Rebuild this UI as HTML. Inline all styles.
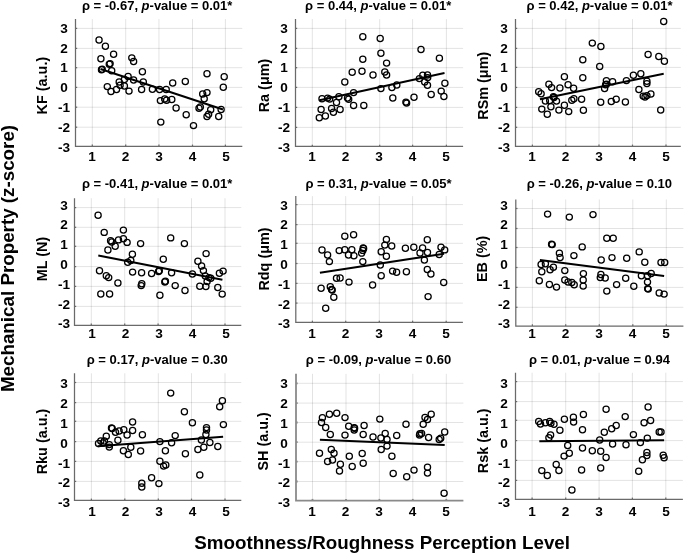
<!DOCTYPE html><html><head><meta charset="utf-8"><style>html,body{margin:0;padding:0;background:#fff}svg{display:block}text{font-family:"Liberation Sans", Arial, sans-serif;font-weight:bold;fill:#000}</style></head><body>
<svg width="685" height="554" viewBox="0 0 685 554">
<rect width="685" height="554" fill="#fff"/>
<g stroke="#000" stroke-opacity="0.11" stroke-width="1"><line x1="92.30" y1="19.10" x2="92.30" y2="146.30"/><line x1="125.70" y1="19.10" x2="125.70" y2="146.30"/><line x1="158.95" y1="19.10" x2="158.95" y2="146.30"/><line x1="192.50" y1="19.10" x2="192.50" y2="146.30"/><line x1="225.40" y1="19.10" x2="225.40" y2="146.30"/><line x1="75.50" y1="28.40" x2="242.30" y2="28.40"/><line x1="75.50" y1="48.40" x2="242.30" y2="48.40"/><line x1="75.50" y1="67.70" x2="242.30" y2="67.70"/><line x1="75.50" y1="87.40" x2="242.30" y2="87.40"/><line x1="75.50" y1="107.20" x2="242.30" y2="107.20"/><line x1="75.50" y1="127.20" x2="242.30" y2="127.20"/></g>
<g stroke="#6a6a6a" stroke-width="1.25"><path d="M75.50 19.10V146.30H242.30" fill="none"/><line x1="92.30" y1="146.30" x2="92.30" y2="144.60"/><line x1="125.70" y1="146.30" x2="125.70" y2="144.60"/><line x1="158.95" y1="146.30" x2="158.95" y2="144.60"/><line x1="192.50" y1="146.30" x2="192.50" y2="144.60"/><line x1="225.40" y1="146.30" x2="225.40" y2="144.60"/><line x1="75.50" y1="28.40" x2="77.20" y2="28.40"/><line x1="75.50" y1="48.40" x2="77.20" y2="48.40"/><line x1="75.50" y1="67.70" x2="77.20" y2="67.70"/><line x1="75.50" y1="87.40" x2="77.20" y2="87.40"/><line x1="75.50" y1="107.20" x2="77.20" y2="107.20"/><line x1="75.50" y1="127.20" x2="77.20" y2="127.20"/></g>
<g style="font-size:13.60px"><text x="92.05" y="160.90" text-anchor="middle">1</text><text x="125.55" y="160.90" text-anchor="middle">2</text><text x="159.05" y="160.90" text-anchor="middle">3</text><text x="192.55" y="160.90" text-anchor="middle">4</text><text x="226.05" y="160.90" text-anchor="middle">5</text><text x="64.05" y="32.68" text-anchor="middle">3</text><text x="64.05" y="52.51" text-anchor="middle">2</text><text x="64.05" y="72.35" text-anchor="middle">1</text><text x="64.05" y="92.18" text-anchor="middle">0</text><text x="64.05" y="112.01" text-anchor="middle">-1</text><text x="64.05" y="131.85" text-anchor="middle">-2</text><text x="64.05" y="151.68" text-anchor="middle">-3</text></g>
<text x="81.90" y="9.70" style="font-size:13.00px">ρ = -0.67, <tspan font-style="italic">p</tspan>-value = 0.01*</text>
<text transform="translate(46.90 85.60) rotate(-90)" text-anchor="middle" style="font-size:14.40px">KF (a.u.)</text>
<g fill="none" stroke="#000" stroke-width="1.25"><circle cx="99.05" cy="40.07" r="3.1"/><circle cx="105.40" cy="46.20" r="3.1"/><circle cx="113.60" cy="54.20" r="3.1"/><circle cx="100.90" cy="58.80" r="3.1"/><circle cx="109.30" cy="64.30" r="3.1"/><circle cx="110.10" cy="63.60" r="3.1"/><circle cx="101.50" cy="69.80" r="3.1"/><circle cx="102.20" cy="69.30" r="3.1"/><circle cx="111.70" cy="70.80" r="3.1"/><circle cx="131.80" cy="57.85" r="3.1"/><circle cx="133.60" cy="61.50" r="3.1"/><circle cx="142.40" cy="71.70" r="3.1"/><circle cx="128.10" cy="76.40" r="3.1"/><circle cx="119.20" cy="81.90" r="3.1"/><circle cx="124.40" cy="79.40" r="3.1"/><circle cx="133.60" cy="80.00" r="3.1"/><circle cx="143.30" cy="82.00" r="3.1"/><circle cx="107.30" cy="86.60" r="3.1"/><circle cx="111.00" cy="91.50" r="3.1"/><circle cx="116.50" cy="89.40" r="3.1"/><circle cx="120.10" cy="85.30" r="3.1"/><circle cx="124.40" cy="86.00" r="3.1"/><circle cx="129.00" cy="91.10" r="3.1"/><circle cx="141.60" cy="89.40" r="3.1"/><circle cx="152.40" cy="89.20" r="3.1"/><circle cx="159.60" cy="89.40" r="3.1"/><circle cx="166.20" cy="89.50" r="3.1"/><circle cx="172.70" cy="83.00" r="3.1"/><circle cx="185.30" cy="81.40" r="3.1"/><circle cx="207.00" cy="73.80" r="3.1"/><circle cx="224.20" cy="76.80" r="3.1"/><circle cx="223.30" cy="87.20" r="3.1"/><circle cx="202.70" cy="94.00" r="3.1"/><circle cx="207.00" cy="92.60" r="3.1"/><circle cx="204.20" cy="98.80" r="3.1"/><circle cx="160.40" cy="100.60" r="3.1"/><circle cx="164.70" cy="99.00" r="3.1"/><circle cx="166.60" cy="100.20" r="3.1"/><circle cx="171.80" cy="99.40" r="3.1"/><circle cx="176.10" cy="108.00" r="3.1"/><circle cx="186.20" cy="114.70" r="3.1"/><circle cx="160.80" cy="122.10" r="3.1"/><circle cx="193.50" cy="125.60" r="3.1"/><circle cx="199.00" cy="108.20" r="3.1"/><circle cx="200.30" cy="107.00" r="3.1"/><circle cx="210.70" cy="109.70" r="3.1"/><circle cx="208.60" cy="114.30" r="3.1"/><circle cx="207.00" cy="116.50" r="3.1"/><circle cx="221.10" cy="109.40" r="3.1"/><circle cx="218.70" cy="116.50" r="3.1"/></g>
<line x1="100.50" y1="69.00" x2="223.00" y2="109.50" stroke="#000" stroke-width="2"/>
<g stroke="#000" stroke-opacity="0.11" stroke-width="1"><line x1="312.30" y1="19.10" x2="312.30" y2="146.40"/><line x1="345.70" y1="19.10" x2="345.70" y2="146.40"/><line x1="379.70" y1="19.10" x2="379.70" y2="146.40"/><line x1="412.60" y1="19.10" x2="412.60" y2="146.40"/><line x1="446.40" y1="19.10" x2="446.40" y2="146.40"/><line x1="295.50" y1="28.40" x2="463.10" y2="28.40"/><line x1="295.50" y1="48.40" x2="463.10" y2="48.40"/><line x1="295.50" y1="67.70" x2="463.10" y2="67.70"/><line x1="295.50" y1="87.40" x2="463.10" y2="87.40"/><line x1="295.50" y1="107.40" x2="463.10" y2="107.40"/><line x1="295.50" y1="127.40" x2="463.10" y2="127.40"/></g>
<g stroke="#6a6a6a" stroke-width="1.25"><path d="M295.50 19.10V146.40H463.10" fill="none"/><line x1="312.30" y1="146.40" x2="312.30" y2="144.70"/><line x1="345.70" y1="146.40" x2="345.70" y2="144.70"/><line x1="379.70" y1="146.40" x2="379.70" y2="144.70"/><line x1="412.60" y1="146.40" x2="412.60" y2="144.70"/><line x1="446.40" y1="146.40" x2="446.40" y2="144.70"/><line x1="295.50" y1="28.40" x2="297.20" y2="28.40"/><line x1="295.50" y1="48.40" x2="297.20" y2="48.40"/><line x1="295.50" y1="67.70" x2="297.20" y2="67.70"/><line x1="295.50" y1="87.40" x2="297.20" y2="87.40"/><line x1="295.50" y1="107.40" x2="297.20" y2="107.40"/><line x1="295.50" y1="127.40" x2="297.20" y2="127.40"/></g>
<g style="font-size:13.60px"><text x="312.10" y="160.90" text-anchor="middle">1</text><text x="345.60" y="160.90" text-anchor="middle">2</text><text x="379.10" y="160.90" text-anchor="middle">3</text><text x="412.60" y="160.90" text-anchor="middle">4</text><text x="446.10" y="160.90" text-anchor="middle">5</text><text x="284.05" y="32.68" text-anchor="middle">3</text><text x="284.05" y="52.51" text-anchor="middle">2</text><text x="284.05" y="72.35" text-anchor="middle">1</text><text x="284.05" y="92.18" text-anchor="middle">0</text><text x="284.05" y="112.01" text-anchor="middle">-1</text><text x="284.05" y="131.85" text-anchor="middle">-2</text><text x="284.05" y="151.68" text-anchor="middle">-3</text></g>
<text x="305.10" y="9.70" style="font-size:13.00px">ρ = 0.44, <tspan font-style="italic">p</tspan>-value = 0.01*</text>
<text transform="translate(268.60 85.50) rotate(-90)" text-anchor="middle" style="font-size:14.40px">Ra (μm)</text>
<g fill="none" stroke="#000" stroke-width="1.25"><circle cx="362.80" cy="36.80" r="3.1"/><circle cx="362.80" cy="59.30" r="3.1"/><circle cx="352.20" cy="72.30" r="3.1"/><circle cx="362.00" cy="71.30" r="3.1"/><circle cx="373.00" cy="74.90" r="3.1"/><circle cx="344.80" cy="82.00" r="3.1"/><circle cx="322.00" cy="98.70" r="3.1"/><circle cx="327.60" cy="98.10" r="3.1"/><circle cx="329.70" cy="99.10" r="3.1"/><circle cx="338.90" cy="96.80" r="3.1"/><circle cx="336.50" cy="102.40" r="3.1"/><circle cx="347.50" cy="98.10" r="3.1"/><circle cx="348.70" cy="99.30" r="3.1"/><circle cx="353.60" cy="92.60" r="3.1"/><circle cx="353.60" cy="105.40" r="3.1"/><circle cx="363.80" cy="105.40" r="3.1"/><circle cx="321.10" cy="109.40" r="3.1"/><circle cx="331.60" cy="108.50" r="3.1"/><circle cx="333.40" cy="112.20" r="3.1"/><circle cx="340.10" cy="109.40" r="3.1"/><circle cx="325.40" cy="115.90" r="3.1"/><circle cx="319.30" cy="117.70" r="3.1"/><circle cx="380.20" cy="38.50" r="3.1"/><circle cx="380.90" cy="53.20" r="3.1"/><circle cx="386.60" cy="63.10" r="3.1"/><circle cx="384.80" cy="72.00" r="3.1"/><circle cx="386.60" cy="75.00" r="3.1"/><circle cx="421.00" cy="49.50" r="3.1"/><circle cx="439.40" cy="58.20" r="3.1"/><circle cx="380.90" cy="88.60" r="3.1"/><circle cx="391.90" cy="87.40" r="3.1"/><circle cx="396.80" cy="85.00" r="3.1"/><circle cx="392.80" cy="98.00" r="3.1"/><circle cx="405.90" cy="102.10" r="3.1"/><circle cx="406.60" cy="103.10" r="3.1"/><circle cx="414.00" cy="97.20" r="3.1"/><circle cx="419.40" cy="78.60" r="3.1"/><circle cx="422.80" cy="75.20" r="3.1"/><circle cx="427.50" cy="74.90" r="3.1"/><circle cx="427.70" cy="77.60" r="3.1"/><circle cx="424.70" cy="82.00" r="3.1"/><circle cx="427.50" cy="85.30" r="3.1"/><circle cx="431.20" cy="94.50" r="3.1"/><circle cx="444.90" cy="83.20" r="3.1"/><circle cx="441.20" cy="91.10" r="3.1"/><circle cx="443.90" cy="96.40" r="3.1"/></g>
<line x1="319.50" y1="100.20" x2="444.50" y2="73.10" stroke="#000" stroke-width="2"/>
<g stroke="#000" stroke-opacity="0.11" stroke-width="1"><line x1="532.40" y1="19.10" x2="532.40" y2="146.30"/><line x1="565.80" y1="19.10" x2="565.80" y2="146.30"/><line x1="599.00" y1="19.10" x2="599.00" y2="146.30"/><line x1="632.50" y1="19.10" x2="632.50" y2="146.30"/><line x1="666.00" y1="19.10" x2="666.00" y2="146.30"/><line x1="515.50" y1="28.40" x2="680.80" y2="28.40"/><line x1="515.50" y1="48.40" x2="680.80" y2="48.40"/><line x1="515.50" y1="67.40" x2="680.80" y2="67.40"/><line x1="515.50" y1="87.45" x2="680.80" y2="87.45"/><line x1="515.50" y1="107.40" x2="680.80" y2="107.40"/><line x1="515.50" y1="127.30" x2="680.80" y2="127.30"/></g>
<g stroke="#6a6a6a" stroke-width="1.25"><path d="M515.50 19.10V146.30H680.80" fill="none"/><line x1="532.40" y1="146.30" x2="532.40" y2="144.60"/><line x1="565.80" y1="146.30" x2="565.80" y2="144.60"/><line x1="599.00" y1="146.30" x2="599.00" y2="144.60"/><line x1="632.50" y1="146.30" x2="632.50" y2="144.60"/><line x1="666.00" y1="146.30" x2="666.00" y2="144.60"/><line x1="515.50" y1="28.40" x2="517.20" y2="28.40"/><line x1="515.50" y1="48.40" x2="517.20" y2="48.40"/><line x1="515.50" y1="67.40" x2="517.20" y2="67.40"/><line x1="515.50" y1="87.45" x2="517.20" y2="87.45"/><line x1="515.50" y1="107.40" x2="517.20" y2="107.40"/><line x1="515.50" y1="127.30" x2="517.20" y2="127.30"/></g>
<g style="font-size:13.60px"><text x="532.05" y="160.90" text-anchor="middle">1</text><text x="565.55" y="160.90" text-anchor="middle">2</text><text x="599.05" y="160.90" text-anchor="middle">3</text><text x="632.55" y="160.90" text-anchor="middle">4</text><text x="666.05" y="160.90" text-anchor="middle">5</text><text x="504.05" y="32.68" text-anchor="middle">3</text><text x="504.05" y="52.51" text-anchor="middle">2</text><text x="504.05" y="72.35" text-anchor="middle">1</text><text x="504.05" y="92.18" text-anchor="middle">0</text><text x="504.05" y="112.01" text-anchor="middle">-1</text><text x="504.05" y="131.85" text-anchor="middle">-2</text><text x="504.05" y="151.68" text-anchor="middle">-3</text></g>
<text x="526.50" y="9.70" style="font-size:13.00px">ρ = 0.42, <tspan font-style="italic">p</tspan>-value = 0.01*</text>
<text transform="translate(487.80 85.75) rotate(-90)" text-anchor="middle" style="font-size:14.40px">RSm (μm)</text>
<g fill="none" stroke="#000" stroke-width="1.25"><circle cx="592.30" cy="43.10" r="3.1"/><circle cx="600.90" cy="46.50" r="3.1"/><circle cx="582.80" cy="59.70" r="3.1"/><circle cx="599.70" cy="66.40" r="3.1"/><circle cx="564.40" cy="76.80" r="3.1"/><circle cx="582.80" cy="77.70" r="3.1"/><circle cx="548.90" cy="84.30" r="3.1"/><circle cx="551.60" cy="87.60" r="3.1"/><circle cx="559.90" cy="88.00" r="3.1"/><circle cx="568.10" cy="84.80" r="3.1"/><circle cx="573.60" cy="88.30" r="3.1"/><circle cx="538.70" cy="91.70" r="3.1"/><circle cx="541.10" cy="93.80" r="3.1"/><circle cx="545.40" cy="101.10" r="3.1"/><circle cx="549.70" cy="100.50" r="3.1"/><circle cx="553.40" cy="96.80" r="3.1"/><circle cx="554.00" cy="97.50" r="3.1"/><circle cx="556.50" cy="101.10" r="3.1"/><circle cx="550.90" cy="106.70" r="3.1"/><circle cx="541.80" cy="109.10" r="3.1"/><circle cx="547.30" cy="114.30" r="3.1"/><circle cx="558.90" cy="110.10" r="3.1"/><circle cx="564.40" cy="105.20" r="3.1"/><circle cx="568.70" cy="111.60" r="3.1"/><circle cx="571.80" cy="100.30" r="3.1"/><circle cx="573.90" cy="98.70" r="3.1"/><circle cx="581.60" cy="99.30" r="3.1"/><circle cx="583.40" cy="110.30" r="3.1"/><circle cx="663.70" cy="21.40" r="3.1"/><circle cx="648.10" cy="54.40" r="3.1"/><circle cx="658.80" cy="56.40" r="3.1"/><circle cx="664.40" cy="61.30" r="3.1"/><circle cx="606.40" cy="80.60" r="3.1"/><circle cx="606.40" cy="84.20" r="3.1"/><circle cx="605.60" cy="84.80" r="3.1"/><circle cx="604.60" cy="88.50" r="3.1"/><circle cx="612.60" cy="81.80" r="3.1"/><circle cx="626.40" cy="80.60" r="3.1"/><circle cx="633.40" cy="75.30" r="3.1"/><circle cx="640.80" cy="73.80" r="3.1"/><circle cx="646.90" cy="81.20" r="3.1"/><circle cx="646.90" cy="83.60" r="3.1"/><circle cx="638.90" cy="89.50" r="3.1"/><circle cx="643.20" cy="96.10" r="3.1"/><circle cx="645.00" cy="96.90" r="3.1"/><circle cx="646.90" cy="95.60" r="3.1"/><circle cx="650.90" cy="94.00" r="3.1"/><circle cx="600.70" cy="102.30" r="3.1"/><circle cx="611.30" cy="101.40" r="3.1"/><circle cx="616.20" cy="99.30" r="3.1"/><circle cx="625.40" cy="102.00" r="3.1"/><circle cx="660.70" cy="110.00" r="3.1"/></g>
<line x1="539.90" y1="99.20" x2="663.70" y2="73.70" stroke="#000" stroke-width="2"/>
<g stroke="#000" stroke-opacity="0.11" stroke-width="1"><line x1="91.30" y1="198.25" x2="91.30" y2="325.30"/><line x1="124.70" y1="198.25" x2="124.70" y2="325.30"/><line x1="158.10" y1="198.25" x2="158.10" y2="325.30"/><line x1="191.50" y1="198.25" x2="191.50" y2="325.30"/><line x1="225.00" y1="198.25" x2="225.00" y2="325.30"/><line x1="74.50" y1="207.60" x2="241.30" y2="207.60"/><line x1="74.50" y1="227.30" x2="241.30" y2="227.30"/><line x1="74.50" y1="246.30" x2="241.30" y2="246.30"/><line x1="74.50" y1="266.60" x2="241.30" y2="266.60"/><line x1="74.50" y1="286.40" x2="241.30" y2="286.40"/><line x1="74.50" y1="306.40" x2="241.30" y2="306.40"/></g>
<g stroke="#6a6a6a" stroke-width="1.25"><path d="M74.50 198.25V325.30H241.30" fill="none"/><line x1="91.30" y1="325.30" x2="91.30" y2="323.60"/><line x1="124.70" y1="325.30" x2="124.70" y2="323.60"/><line x1="158.10" y1="325.30" x2="158.10" y2="323.60"/><line x1="191.50" y1="325.30" x2="191.50" y2="323.60"/><line x1="225.00" y1="325.30" x2="225.00" y2="323.60"/><line x1="74.50" y1="207.60" x2="76.20" y2="207.60"/><line x1="74.50" y1="227.30" x2="76.20" y2="227.30"/><line x1="74.50" y1="246.30" x2="76.20" y2="246.30"/><line x1="74.50" y1="266.60" x2="76.20" y2="266.60"/><line x1="74.50" y1="286.40" x2="76.20" y2="286.40"/><line x1="74.50" y1="306.40" x2="76.20" y2="306.40"/></g>
<g style="font-size:13.60px"><text x="92.05" y="337.90" text-anchor="middle">1</text><text x="125.55" y="337.90" text-anchor="middle">2</text><text x="159.05" y="337.90" text-anchor="middle">3</text><text x="192.55" y="337.90" text-anchor="middle">4</text><text x="226.05" y="337.90" text-anchor="middle">5</text><text x="64.05" y="209.63" text-anchor="middle">3</text><text x="64.05" y="229.44" text-anchor="middle">2</text><text x="64.05" y="249.25" text-anchor="middle">1</text><text x="64.05" y="269.06" text-anchor="middle">0</text><text x="64.05" y="288.86" text-anchor="middle">-1</text><text x="64.05" y="308.67" text-anchor="middle">-2</text><text x="64.05" y="328.48" text-anchor="middle">-3</text></g>
<text x="81.90" y="187.70" style="font-size:13.00px">ρ = -0.41, <tspan font-style="italic">p</tspan>-value = 0.01*</text>
<text transform="translate(46.90 259.00) rotate(-90)" text-anchor="middle" style="font-size:14.40px">ML (N)</text>
<g fill="none" stroke="#000" stroke-width="1.25"><circle cx="98.10" cy="215.30" r="3.1"/><circle cx="104.20" cy="232.40" r="3.1"/><circle cx="123.40" cy="230.10" r="3.1"/><circle cx="110.60" cy="240.80" r="3.1"/><circle cx="111.80" cy="242.00" r="3.1"/><circle cx="118.50" cy="239.90" r="3.1"/><circle cx="123.40" cy="238.70" r="3.1"/><circle cx="127.10" cy="242.40" r="3.1"/><circle cx="115.20" cy="246.30" r="3.1"/><circle cx="107.90" cy="250.00" r="3.1"/><circle cx="140.60" cy="243.60" r="3.1"/><circle cx="132.40" cy="254.20" r="3.1"/><circle cx="127.70" cy="262.30" r="3.1"/><circle cx="130.80" cy="260.40" r="3.1"/><circle cx="99.50" cy="270.80" r="3.1"/><circle cx="106.30" cy="275.80" r="3.1"/><circle cx="108.70" cy="277.60" r="3.1"/><circle cx="117.90" cy="282.90" r="3.1"/><circle cx="132.60" cy="272.10" r="3.1"/><circle cx="141.60" cy="272.70" r="3.1"/><circle cx="151.60" cy="273.50" r="3.1"/><circle cx="141.80" cy="283.70" r="3.1"/><circle cx="141.20" cy="285.60" r="3.1"/><circle cx="100.80" cy="293.90" r="3.1"/><circle cx="109.60" cy="293.90" r="3.1"/><circle cx="170.70" cy="237.90" r="3.1"/><circle cx="184.40" cy="243.60" r="3.1"/><circle cx="206.10" cy="253.60" r="3.1"/><circle cx="163.30" cy="259.20" r="3.1"/><circle cx="197.90" cy="261.30" r="3.1"/><circle cx="201.60" cy="265.90" r="3.1"/><circle cx="203.40" cy="270.60" r="3.1"/><circle cx="159.30" cy="270.80" r="3.1"/><circle cx="158.60" cy="271.40" r="3.1"/><circle cx="171.60" cy="272.70" r="3.1"/><circle cx="192.40" cy="273.90" r="3.1"/><circle cx="205.30" cy="276.00" r="3.1"/><circle cx="209.00" cy="277.60" r="3.1"/><circle cx="210.80" cy="278.20" r="3.1"/><circle cx="207.10" cy="281.60" r="3.1"/><circle cx="219.40" cy="273.30" r="3.1"/><circle cx="223.10" cy="271.10" r="3.1"/><circle cx="165.40" cy="281.30" r="3.1"/><circle cx="164.80" cy="281.90" r="3.1"/><circle cx="175.20" cy="285.60" r="3.1"/><circle cx="185.00" cy="290.50" r="3.1"/><circle cx="199.80" cy="286.20" r="3.1"/><circle cx="205.90" cy="286.50" r="3.1"/><circle cx="217.80" cy="287.40" r="3.1"/><circle cx="222.20" cy="294.10" r="3.1"/><circle cx="159.90" cy="295.20" r="3.1"/></g>
<line x1="98.30" y1="255.60" x2="222.40" y2="279.80" stroke="#000" stroke-width="2"/>
<g stroke="#000" stroke-opacity="0.11" stroke-width="1"><line x1="312.40" y1="196.10" x2="312.40" y2="322.40"/><line x1="345.70" y1="196.10" x2="345.70" y2="322.40"/><line x1="379.30" y1="196.10" x2="379.30" y2="322.40"/><line x1="412.60" y1="196.10" x2="412.60" y2="322.40"/><line x1="446.20" y1="196.10" x2="446.20" y2="322.40"/><line x1="295.80" y1="204.60" x2="462.90" y2="204.60"/><line x1="295.80" y1="224.60" x2="462.90" y2="224.60"/><line x1="295.80" y1="243.30" x2="462.90" y2="243.30"/><line x1="295.80" y1="263.50" x2="462.90" y2="263.50"/><line x1="295.80" y1="283.40" x2="462.90" y2="283.40"/><line x1="295.80" y1="303.10" x2="462.90" y2="303.10"/></g>
<g stroke="#6a6a6a" stroke-width="1.25"><path d="M295.80 196.10V322.40H462.90" fill="none"/><line x1="312.40" y1="322.40" x2="312.40" y2="320.70"/><line x1="345.70" y1="322.40" x2="345.70" y2="320.70"/><line x1="379.30" y1="322.40" x2="379.30" y2="320.70"/><line x1="412.60" y1="322.40" x2="412.60" y2="320.70"/><line x1="446.20" y1="322.40" x2="446.20" y2="320.70"/><line x1="295.80" y1="204.60" x2="297.50" y2="204.60"/><line x1="295.80" y1="224.60" x2="297.50" y2="224.60"/><line x1="295.80" y1="243.30" x2="297.50" y2="243.30"/><line x1="295.80" y1="263.50" x2="297.50" y2="263.50"/><line x1="295.80" y1="283.40" x2="297.50" y2="283.40"/><line x1="295.80" y1="303.10" x2="297.50" y2="303.10"/></g>
<g style="font-size:13.60px"><text x="312.10" y="337.90" text-anchor="middle">1</text><text x="345.60" y="337.90" text-anchor="middle">2</text><text x="379.10" y="337.90" text-anchor="middle">3</text><text x="412.60" y="337.90" text-anchor="middle">4</text><text x="446.10" y="337.90" text-anchor="middle">5</text><text x="284.05" y="209.63" text-anchor="middle">3</text><text x="284.05" y="229.44" text-anchor="middle">2</text><text x="284.05" y="249.25" text-anchor="middle">1</text><text x="284.05" y="269.06" text-anchor="middle">0</text><text x="284.05" y="288.86" text-anchor="middle">-1</text><text x="284.05" y="308.67" text-anchor="middle">-2</text><text x="284.05" y="328.48" text-anchor="middle">-3</text></g>
<text x="305.40" y="187.70" style="font-size:13.00px">ρ = 0.31, <tspan font-style="italic">p</tspan>-value = 0.05*</text>
<text transform="translate(268.50 259.00) rotate(-90)" text-anchor="middle" style="font-size:14.40px">Rdq (μm)</text>
<g fill="none" stroke="#000" stroke-width="1.25"><circle cx="344.80" cy="236.20" r="3.1"/><circle cx="353.60" cy="234.70" r="3.1"/><circle cx="322.00" cy="250.00" r="3.1"/><circle cx="327.60" cy="255.00" r="3.1"/><circle cx="339.20" cy="250.60" r="3.1"/><circle cx="344.80" cy="249.70" r="3.1"/><circle cx="351.80" cy="249.70" r="3.1"/><circle cx="348.50" cy="254.90" r="3.1"/><circle cx="353.90" cy="255.80" r="3.1"/><circle cx="363.20" cy="247.90" r="3.1"/><circle cx="363.60" cy="248.40" r="3.1"/><circle cx="362.80" cy="250.40" r="3.1"/><circle cx="361.60" cy="253.10" r="3.1"/><circle cx="329.40" cy="261.60" r="3.1"/><circle cx="362.80" cy="261.60" r="3.1"/><circle cx="336.50" cy="278.20" r="3.1"/><circle cx="340.10" cy="278.00" r="3.1"/><circle cx="349.00" cy="282.10" r="3.1"/><circle cx="321.10" cy="288.30" r="3.1"/><circle cx="330.30" cy="286.80" r="3.1"/><circle cx="331.60" cy="289.50" r="3.1"/><circle cx="332.20" cy="289.90" r="3.1"/><circle cx="333.80" cy="297.20" r="3.1"/><circle cx="325.70" cy="308.20" r="3.1"/><circle cx="372.60" cy="284.90" r="3.1"/><circle cx="386.40" cy="239.40" r="3.1"/><circle cx="384.80" cy="245.10" r="3.1"/><circle cx="391.70" cy="246.00" r="3.1"/><circle cx="381.20" cy="251.80" r="3.1"/><circle cx="386.40" cy="256.30" r="3.1"/><circle cx="405.40" cy="248.20" r="3.1"/><circle cx="413.80" cy="247.20" r="3.1"/><circle cx="422.60" cy="247.90" r="3.1"/><circle cx="427.30" cy="239.80" r="3.1"/><circle cx="427.50" cy="252.50" r="3.1"/><circle cx="420.00" cy="253.00" r="3.1"/><circle cx="441.00" cy="247.20" r="3.1"/><circle cx="444.70" cy="249.90" r="3.1"/><circle cx="439.20" cy="254.50" r="3.1"/><circle cx="380.30" cy="265.00" r="3.1"/><circle cx="381.20" cy="275.80" r="3.1"/><circle cx="392.60" cy="271.10" r="3.1"/><circle cx="396.60" cy="272.30" r="3.1"/><circle cx="406.40" cy="271.80" r="3.1"/><circle cx="424.40" cy="260.10" r="3.1"/><circle cx="427.30" cy="269.40" r="3.1"/><circle cx="430.90" cy="273.90" r="3.1"/><circle cx="443.70" cy="282.50" r="3.1"/><circle cx="428.10" cy="296.60" r="3.1"/></g>
<line x1="319.90" y1="272.70" x2="444.10" y2="253.70" stroke="#000" stroke-width="2"/>
<g stroke="#000" stroke-opacity="0.11" stroke-width="1"><line x1="532.40" y1="199.50" x2="532.40" y2="326.00"/><line x1="565.70" y1="199.50" x2="565.70" y2="326.00"/><line x1="599.30" y1="199.50" x2="599.30" y2="326.00"/><line x1="632.80" y1="199.50" x2="632.80" y2="326.00"/><line x1="666.30" y1="199.50" x2="666.30" y2="326.00"/><line x1="515.80" y1="208.50" x2="683.40" y2="208.50"/><line x1="515.80" y1="228.50" x2="683.40" y2="228.50"/><line x1="515.80" y1="247.50" x2="683.40" y2="247.50"/><line x1="515.80" y1="267.50" x2="683.40" y2="267.50"/><line x1="515.80" y1="287.40" x2="683.40" y2="287.40"/><line x1="515.80" y1="307.30" x2="683.40" y2="307.30"/></g>
<g stroke="#6a6a6a" stroke-width="1.25"><path d="M515.80 199.50V326.00H683.40" fill="none"/><line x1="532.40" y1="326.00" x2="532.40" y2="324.30"/><line x1="565.70" y1="326.00" x2="565.70" y2="324.30"/><line x1="599.30" y1="326.00" x2="599.30" y2="324.30"/><line x1="632.80" y1="326.00" x2="632.80" y2="324.30"/><line x1="666.30" y1="326.00" x2="666.30" y2="324.30"/><line x1="515.80" y1="208.50" x2="517.50" y2="208.50"/><line x1="515.80" y1="228.50" x2="517.50" y2="228.50"/><line x1="515.80" y1="247.50" x2="517.50" y2="247.50"/><line x1="515.80" y1="267.50" x2="517.50" y2="267.50"/><line x1="515.80" y1="287.40" x2="517.50" y2="287.40"/><line x1="515.80" y1="307.30" x2="517.50" y2="307.30"/></g>
<g style="font-size:13.60px"><text x="532.05" y="337.90" text-anchor="middle">1</text><text x="565.55" y="337.90" text-anchor="middle">2</text><text x="599.05" y="337.90" text-anchor="middle">3</text><text x="632.55" y="337.90" text-anchor="middle">4</text><text x="666.05" y="337.90" text-anchor="middle">5</text><text x="504.05" y="209.63" text-anchor="middle">3</text><text x="504.05" y="229.44" text-anchor="middle">2</text><text x="504.05" y="249.25" text-anchor="middle">1</text><text x="504.05" y="269.06" text-anchor="middle">0</text><text x="504.05" y="288.86" text-anchor="middle">-1</text><text x="504.05" y="308.67" text-anchor="middle">-2</text><text x="504.05" y="328.48" text-anchor="middle">-3</text></g>
<text x="526.70" y="188.00" style="font-size:13.00px">ρ = -0.26, <tspan font-style="italic">p</tspan>-value = 0.10</text>
<text transform="translate(487.30 258.90) rotate(-90)" text-anchor="middle" style="font-size:14.40px">EB (%)</text>
<g fill="none" stroke="#000" stroke-width="1.25"><circle cx="547.60" cy="214.10" r="3.1"/><circle cx="569.30" cy="217.10" r="3.1"/><circle cx="593.00" cy="214.60" r="3.1"/><circle cx="551.60" cy="244.20" r="3.1"/><circle cx="552.20" cy="244.60" r="3.1"/><circle cx="559.40" cy="253.20" r="3.1"/><circle cx="560.10" cy="257.50" r="3.1"/><circle cx="582.20" cy="246.90" r="3.1"/><circle cx="573.90" cy="255.60" r="3.1"/><circle cx="541.10" cy="264.40" r="3.1"/><circle cx="545.40" cy="263.80" r="3.1"/><circle cx="541.80" cy="271.80" r="3.1"/><circle cx="550.10" cy="269.70" r="3.1"/><circle cx="553.40" cy="267.20" r="3.1"/><circle cx="564.80" cy="270.60" r="3.1"/><circle cx="539.30" cy="280.70" r="3.1"/><circle cx="549.40" cy="284.40" r="3.1"/><circle cx="556.50" cy="287.10" r="3.1"/><circle cx="564.80" cy="280.00" r="3.1"/><circle cx="568.10" cy="282.00" r="3.1"/><circle cx="571.80" cy="282.40" r="3.1"/><circle cx="574.20" cy="284.70" r="3.1"/><circle cx="583.40" cy="273.60" r="3.1"/><circle cx="583.20" cy="280.00" r="3.1"/><circle cx="583.20" cy="286.10" r="3.1"/><circle cx="606.80" cy="238.30" r="3.1"/><circle cx="613.20" cy="238.30" r="3.1"/><circle cx="639.20" cy="251.90" r="3.1"/><circle cx="612.00" cy="257.60" r="3.1"/><circle cx="626.70" cy="258.30" r="3.1"/><circle cx="601.20" cy="260.00" r="3.1"/><circle cx="644.80" cy="262.30" r="3.1"/><circle cx="661.00" cy="262.50" r="3.1"/><circle cx="664.70" cy="262.50" r="3.1"/><circle cx="600.90" cy="274.50" r="3.1"/><circle cx="600.30" cy="277.60" r="3.1"/><circle cx="605.20" cy="278.00" r="3.1"/><circle cx="625.70" cy="278.20" r="3.1"/><circle cx="616.60" cy="284.60" r="3.1"/><circle cx="606.80" cy="291.10" r="3.1"/><circle cx="633.80" cy="286.20" r="3.1"/><circle cx="641.40" cy="275.80" r="3.1"/><circle cx="647.50" cy="275.80" r="3.1"/><circle cx="651.20" cy="273.50" r="3.1"/><circle cx="647.50" cy="282.10" r="3.1"/><circle cx="647.70" cy="288.60" r="3.1"/><circle cx="648.20" cy="289.10" r="3.1"/><circle cx="659.20" cy="292.90" r="3.1"/><circle cx="664.10" cy="294.10" r="3.1"/></g>
<line x1="539.90" y1="260.10" x2="664.10" y2="276.00" stroke="#000" stroke-width="2"/>
<g stroke="#000" stroke-opacity="0.11" stroke-width="1"><line x1="91.40" y1="373.25" x2="91.40" y2="500.30"/><line x1="124.80" y1="373.25" x2="124.80" y2="500.30"/><line x1="158.30" y1="373.25" x2="158.30" y2="500.30"/><line x1="191.50" y1="373.25" x2="191.50" y2="500.30"/><line x1="225.00" y1="373.25" x2="225.00" y2="500.30"/><line x1="74.50" y1="382.50" x2="241.30" y2="382.50"/><line x1="74.50" y1="402.60" x2="241.30" y2="402.60"/><line x1="74.50" y1="421.30" x2="241.30" y2="421.30"/><line x1="74.50" y1="441.60" x2="241.30" y2="441.60"/><line x1="74.50" y1="461.40" x2="241.30" y2="461.40"/><line x1="74.50" y1="481.40" x2="241.30" y2="481.40"/></g>
<g stroke="#6a6a6a" stroke-width="1.25"><path d="M74.50 373.25V500.30H241.30" fill="none"/><line x1="91.40" y1="500.30" x2="91.40" y2="498.60"/><line x1="124.80" y1="500.30" x2="124.80" y2="498.60"/><line x1="158.30" y1="500.30" x2="158.30" y2="498.60"/><line x1="191.50" y1="500.30" x2="191.50" y2="498.60"/><line x1="225.00" y1="500.30" x2="225.00" y2="498.60"/><line x1="74.50" y1="382.50" x2="76.20" y2="382.50"/><line x1="74.50" y1="402.60" x2="76.20" y2="402.60"/><line x1="74.50" y1="421.30" x2="76.20" y2="421.30"/><line x1="74.50" y1="441.60" x2="76.20" y2="441.60"/><line x1="74.50" y1="461.40" x2="76.20" y2="461.40"/><line x1="74.50" y1="481.40" x2="76.20" y2="481.40"/></g>
<g style="font-size:13.60px"><text x="92.05" y="516.30" text-anchor="middle">1</text><text x="125.55" y="516.30" text-anchor="middle">2</text><text x="159.05" y="516.30" text-anchor="middle">3</text><text x="192.55" y="516.30" text-anchor="middle">4</text><text x="226.05" y="516.30" text-anchor="middle">5</text><text x="64.05" y="388.28" text-anchor="middle">3</text><text x="64.05" y="408.09" text-anchor="middle">2</text><text x="64.05" y="427.90" text-anchor="middle">1</text><text x="64.05" y="447.70" text-anchor="middle">0</text><text x="64.05" y="467.51" text-anchor="middle">-1</text><text x="64.05" y="487.32" text-anchor="middle">-2</text><text x="64.05" y="507.13" text-anchor="middle">-3</text></g>
<text x="86.70" y="364.30" style="font-size:13.00px">ρ = 0.17, <tspan font-style="italic">p</tspan>-value = 0.30</text>
<text transform="translate(46.80 441.50) rotate(-90)" text-anchor="middle" style="font-size:14.40px">Rku (a.u.)</text>
<g fill="none" stroke="#000" stroke-width="1.25"><circle cx="132.60" cy="421.90" r="3.1"/><circle cx="111.50" cy="427.90" r="3.1"/><circle cx="112.20" cy="428.40" r="3.1"/><circle cx="115.50" cy="432.20" r="3.1"/><circle cx="119.10" cy="431.00" r="3.1"/><circle cx="123.80" cy="429.70" r="3.1"/><circle cx="132.60" cy="430.50" r="3.1"/><circle cx="127.10" cy="435.00" r="3.1"/><circle cx="142.40" cy="434.80" r="3.1"/><circle cx="106.30" cy="436.30" r="3.1"/><circle cx="117.90" cy="440.30" r="3.1"/><circle cx="98.50" cy="443.40" r="3.1"/><circle cx="103.10" cy="443.00" r="3.1"/><circle cx="100.80" cy="441.00" r="3.1"/><circle cx="104.40" cy="441.00" r="3.1"/><circle cx="109.30" cy="444.60" r="3.1"/><circle cx="109.30" cy="447.10" r="3.1"/><circle cx="130.80" cy="447.30" r="3.1"/><circle cx="123.40" cy="450.80" r="3.1"/><circle cx="128.30" cy="454.40" r="3.1"/><circle cx="140.60" cy="451.00" r="3.1"/><circle cx="170.70" cy="393.10" r="3.1"/><circle cx="184.40" cy="411.70" r="3.1"/><circle cx="192.40" cy="422.70" r="3.1"/><circle cx="222.40" cy="400.70" r="3.1"/><circle cx="219.70" cy="406.80" r="3.1"/><circle cx="223.40" cy="424.60" r="3.1"/><circle cx="206.50" cy="427.60" r="3.1"/><circle cx="206.50" cy="430.00" r="3.1"/><circle cx="205.90" cy="434.50" r="3.1"/><circle cx="175.20" cy="435.60" r="3.1"/><circle cx="159.90" cy="441.60" r="3.1"/><circle cx="171.60" cy="442.80" r="3.1"/><circle cx="201.40" cy="440.00" r="3.1"/><circle cx="209.90" cy="442.40" r="3.1"/><circle cx="203.80" cy="447.30" r="3.1"/><circle cx="197.90" cy="449.50" r="3.1"/><circle cx="217.80" cy="446.50" r="3.1"/><circle cx="165.40" cy="450.80" r="3.1"/><circle cx="185.40" cy="453.80" r="3.1"/><circle cx="159.90" cy="461.20" r="3.1"/><circle cx="163.60" cy="466.10" r="3.1"/><circle cx="165.80" cy="464.90" r="3.1"/><circle cx="199.80" cy="475.00" r="3.1"/><circle cx="158.90" cy="483.60" r="3.1"/><circle cx="151.60" cy="477.70" r="3.1"/><circle cx="141.80" cy="483.20" r="3.1"/><circle cx="141.80" cy="486.90" r="3.1"/></g>
<line x1="97.70" y1="446.20" x2="223.10" y2="436.80" stroke="#000" stroke-width="2"/>
<g stroke="#000" stroke-opacity="0.11" stroke-width="1"><line x1="312.50" y1="373.80" x2="312.50" y2="500.60"/><line x1="346.00" y1="373.80" x2="346.00" y2="500.60"/><line x1="379.40" y1="373.80" x2="379.40" y2="500.60"/><line x1="412.80" y1="373.80" x2="412.80" y2="500.60"/><line x1="446.30" y1="373.80" x2="446.30" y2="500.60"/><line x1="296.00" y1="383.30" x2="463.40" y2="383.30"/><line x1="296.00" y1="403.10" x2="463.40" y2="403.10"/><line x1="296.00" y1="422.50" x2="463.40" y2="422.50"/><line x1="296.00" y1="442.20" x2="463.40" y2="442.20"/><line x1="296.00" y1="461.60" x2="463.40" y2="461.60"/><line x1="296.00" y1="481.50" x2="463.40" y2="481.50"/></g>
<g stroke="#8a8a8a" stroke-width="1.80"><path d="M296.00 373.80V500.60H463.40" fill="none"/><line x1="312.50" y1="500.60" x2="312.50" y2="498.90"/><line x1="346.00" y1="500.60" x2="346.00" y2="498.90"/><line x1="379.40" y1="500.60" x2="379.40" y2="498.90"/><line x1="412.80" y1="500.60" x2="412.80" y2="498.90"/><line x1="446.30" y1="500.60" x2="446.30" y2="498.90"/><line x1="296.00" y1="383.30" x2="297.70" y2="383.30"/><line x1="296.00" y1="403.10" x2="297.70" y2="403.10"/><line x1="296.00" y1="422.50" x2="297.70" y2="422.50"/><line x1="296.00" y1="442.20" x2="297.70" y2="442.20"/><line x1="296.00" y1="461.60" x2="297.70" y2="461.60"/><line x1="296.00" y1="481.50" x2="297.70" y2="481.50"/></g>
<g style="font-size:13.60px"><text x="312.10" y="516.30" text-anchor="middle">1</text><text x="345.60" y="516.30" text-anchor="middle">2</text><text x="379.10" y="516.30" text-anchor="middle">3</text><text x="412.60" y="516.30" text-anchor="middle">4</text><text x="446.10" y="516.30" text-anchor="middle">5</text><text x="284.05" y="388.28" text-anchor="middle">3</text><text x="284.05" y="408.09" text-anchor="middle">2</text><text x="284.05" y="427.90" text-anchor="middle">1</text><text x="284.05" y="447.70" text-anchor="middle">0</text><text x="284.05" y="467.51" text-anchor="middle">-1</text><text x="284.05" y="487.32" text-anchor="middle">-2</text><text x="284.05" y="507.13" text-anchor="middle">-3</text></g>
<text x="305.80" y="364.30" style="font-size:13.00px">ρ = -0.09, <tspan font-style="italic">p</tspan>-value = 0.60</text>
<text transform="translate(267.90 441.30) rotate(-90)" text-anchor="middle" style="font-size:14.40px">SH (a.u.)</text>
<g fill="none" stroke="#000" stroke-width="1.25"><circle cx="322.40" cy="417.80" r="3.1"/><circle cx="321.50" cy="422.50" r="3.1"/><circle cx="329.40" cy="414.20" r="3.1"/><circle cx="336.70" cy="413.30" r="3.1"/><circle cx="345.00" cy="417.60" r="3.1"/><circle cx="325.70" cy="427.40" r="3.1"/><circle cx="348.70" cy="426.20" r="3.1"/><circle cx="354.20" cy="427.70" r="3.1"/><circle cx="354.60" cy="428.30" r="3.1"/><circle cx="354.20" cy="429.90" r="3.1"/><circle cx="364.10" cy="425.50" r="3.1"/><circle cx="330.30" cy="434.40" r="3.1"/><circle cx="345.00" cy="435.10" r="3.1"/><circle cx="363.20" cy="434.40" r="3.1"/><circle cx="373.00" cy="437.00" r="3.1"/><circle cx="379.80" cy="419.10" r="3.1"/><circle cx="319.50" cy="453.20" r="3.1"/><circle cx="331.30" cy="449.50" r="3.1"/><circle cx="334.00" cy="453.20" r="3.1"/><circle cx="332.50" cy="460.00" r="3.1"/><circle cx="327.60" cy="461.50" r="3.1"/><circle cx="340.40" cy="464.20" r="3.1"/><circle cx="339.50" cy="471.00" r="3.1"/><circle cx="349.30" cy="456.30" r="3.1"/><circle cx="352.20" cy="466.40" r="3.1"/><circle cx="362.20" cy="453.40" r="3.1"/><circle cx="363.20" cy="463.30" r="3.1"/><circle cx="406.00" cy="424.30" r="3.1"/><circle cx="425.00" cy="417.40" r="3.1"/><circle cx="431.20" cy="414.20" r="3.1"/><circle cx="427.50" cy="419.40" r="3.1"/><circle cx="423.20" cy="424.30" r="3.1"/><circle cx="419.90" cy="433.80" r="3.1"/><circle cx="421.60" cy="433.50" r="3.1"/><circle cx="444.70" cy="431.90" r="3.1"/><circle cx="385.20" cy="433.40" r="3.1"/><circle cx="396.70" cy="435.40" r="3.1"/><circle cx="428.60" cy="437.50" r="3.1"/><circle cx="380.90" cy="437.90" r="3.1"/><circle cx="387.00" cy="439.50" r="3.1"/><circle cx="387.00" cy="446.10" r="3.1"/><circle cx="381.20" cy="449.50" r="3.1"/><circle cx="391.90" cy="456.30" r="3.1"/><circle cx="419.50" cy="435.10" r="3.1"/><circle cx="440.70" cy="438.20" r="3.1"/><circle cx="439.20" cy="439.50" r="3.1"/><circle cx="393.20" cy="473.40" r="3.1"/><circle cx="406.70" cy="476.70" r="3.1"/><circle cx="414.00" cy="470.10" r="3.1"/><circle cx="427.50" cy="467.30" r="3.1"/><circle cx="427.50" cy="473.10" r="3.1"/><circle cx="444.10" cy="493.30" r="3.1"/></g>
<line x1="319.90" y1="439.70" x2="444.70" y2="444.90" stroke="#000" stroke-width="2"/>
<g stroke="#000" stroke-opacity="0.11" stroke-width="1"><line x1="532.10" y1="372.70" x2="532.10" y2="499.30"/><line x1="565.70" y1="372.70" x2="565.70" y2="499.30"/><line x1="599.10" y1="372.70" x2="599.10" y2="499.30"/><line x1="632.40" y1="372.70" x2="632.40" y2="499.30"/><line x1="665.80" y1="372.70" x2="665.80" y2="499.30"/><line x1="515.50" y1="381.60" x2="682.90" y2="381.60"/><line x1="515.50" y1="401.60" x2="682.90" y2="401.60"/><line x1="515.50" y1="420.30" x2="682.90" y2="420.30"/><line x1="515.50" y1="440.60" x2="682.90" y2="440.60"/><line x1="515.50" y1="460.40" x2="682.90" y2="460.40"/><line x1="515.50" y1="480.40" x2="682.90" y2="480.40"/></g>
<g stroke="#6a6a6a" stroke-width="1.25"><path d="M515.50 372.70V499.30H682.90" fill="none"/><line x1="532.10" y1="499.30" x2="532.10" y2="497.60"/><line x1="565.70" y1="499.30" x2="565.70" y2="497.60"/><line x1="599.10" y1="499.30" x2="599.10" y2="497.60"/><line x1="632.40" y1="499.30" x2="632.40" y2="497.60"/><line x1="665.80" y1="499.30" x2="665.80" y2="497.60"/><line x1="515.50" y1="381.60" x2="517.20" y2="381.60"/><line x1="515.50" y1="401.60" x2="517.20" y2="401.60"/><line x1="515.50" y1="420.30" x2="517.20" y2="420.30"/><line x1="515.50" y1="440.60" x2="517.20" y2="440.60"/><line x1="515.50" y1="460.40" x2="517.20" y2="460.40"/><line x1="515.50" y1="480.40" x2="517.20" y2="480.40"/></g>
<g style="font-size:13.60px"><text x="532.05" y="516.30" text-anchor="middle">1</text><text x="565.55" y="516.30" text-anchor="middle">2</text><text x="599.05" y="516.30" text-anchor="middle">3</text><text x="632.55" y="516.30" text-anchor="middle">4</text><text x="666.05" y="516.30" text-anchor="middle">5</text><text x="504.05" y="388.28" text-anchor="middle">3</text><text x="504.05" y="408.09" text-anchor="middle">2</text><text x="504.05" y="427.90" text-anchor="middle">1</text><text x="504.05" y="447.70" text-anchor="middle">0</text><text x="504.05" y="467.51" text-anchor="middle">-1</text><text x="504.05" y="487.32" text-anchor="middle">-2</text><text x="504.05" y="507.13" text-anchor="middle">-3</text></g>
<text x="528.90" y="364.30" style="font-size:13.00px">ρ = 0.01, <tspan font-style="italic">p</tspan>-value = 0.94</text>
<text transform="translate(487.90 440.85) rotate(-90)" text-anchor="middle" style="font-size:14.40px">Rsk (a.u.)</text>
<g fill="none" stroke="#000" stroke-width="1.25"><circle cx="538.70" cy="421.50" r="3.1"/><circle cx="540.50" cy="424.00" r="3.1"/><circle cx="545.40" cy="422.70" r="3.1"/><circle cx="549.70" cy="421.50" r="3.1"/><circle cx="550.90" cy="423.30" r="3.1"/><circle cx="554.00" cy="424.20" r="3.1"/><circle cx="564.40" cy="419.30" r="3.1"/><circle cx="573.40" cy="417.20" r="3.1"/><circle cx="573.60" cy="422.10" r="3.1"/><circle cx="583.40" cy="414.40" r="3.1"/><circle cx="582.50" cy="429.70" r="3.1"/><circle cx="559.90" cy="430.20" r="3.1"/><circle cx="550.60" cy="435.00" r="3.1"/><circle cx="548.90" cy="437.70" r="3.1"/><circle cx="567.70" cy="445.50" r="3.1"/><circle cx="569.30" cy="453.20" r="3.1"/><circle cx="564.10" cy="456.10" r="3.1"/><circle cx="582.50" cy="447.90" r="3.1"/><circle cx="592.30" cy="450.70" r="3.1"/><circle cx="556.20" cy="464.50" r="3.1"/><circle cx="558.90" cy="470.40" r="3.1"/><circle cx="541.80" cy="470.60" r="3.1"/><circle cx="547.30" cy="475.50" r="3.1"/><circle cx="581.60" cy="470.00" r="3.1"/><circle cx="571.90" cy="490.00" r="3.1"/><circle cx="606.10" cy="409.20" r="3.1"/><circle cx="625.20" cy="416.60" r="3.1"/><circle cx="616.20" cy="425.40" r="3.1"/><circle cx="611.70" cy="428.70" r="3.1"/><circle cx="604.30" cy="432.30" r="3.1"/><circle cx="648.10" cy="407.00" r="3.1"/><circle cx="650.60" cy="420.50" r="3.1"/><circle cx="644.10" cy="422.70" r="3.1"/><circle cx="633.40" cy="434.60" r="3.1"/><circle cx="659.20" cy="432.00" r="3.1"/><circle cx="661.00" cy="431.90" r="3.1"/><circle cx="599.70" cy="439.90" r="3.1"/><circle cx="612.60" cy="443.90" r="3.1"/><circle cx="626.00" cy="444.80" r="3.1"/><circle cx="640.40" cy="442.60" r="3.1"/><circle cx="647.30" cy="438.10" r="3.1"/><circle cx="600.70" cy="451.20" r="3.1"/><circle cx="606.10" cy="457.40" r="3.1"/><circle cx="646.90" cy="452.40" r="3.1"/><circle cx="646.90" cy="455.60" r="3.1"/><circle cx="642.40" cy="459.80" r="3.1"/><circle cx="663.20" cy="455.30" r="3.1"/><circle cx="664.10" cy="457.70" r="3.1"/><circle cx="600.70" cy="467.90" r="3.1"/><circle cx="638.70" cy="471.20" r="3.1"/></g>
<line x1="539.30" y1="441.20" x2="664.10" y2="440.20" stroke="#000" stroke-width="2"/>
<text x="382.2" y="549.2" text-anchor="middle" style="font-size:18.80px">Smoothness/Roughness Perception Level</text>
<text transform="translate(14.0 258.5) rotate(-90)" text-anchor="middle" style="font-size:18.80px">Mechanical Property (z-score)</text>
</svg></body></html>
